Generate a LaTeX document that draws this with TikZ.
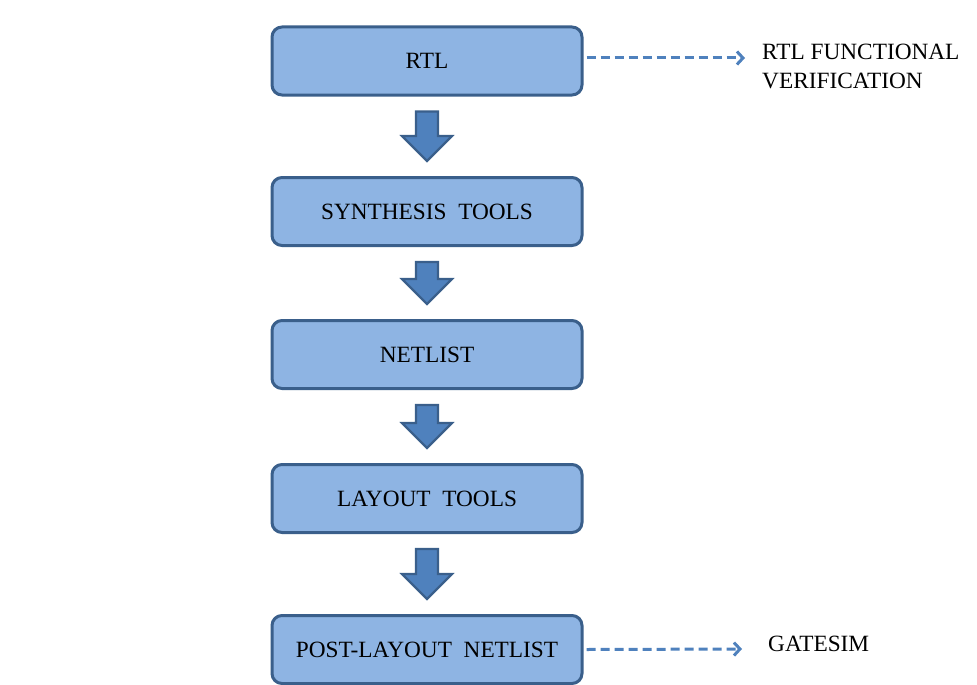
\documentclass[tikz,border=0pt]{standalone}
\usepackage{fontspec}
\setmainfont{Liberation Serif}
\usetikzlibrary{arrows.meta,calc}
\definecolor{boxfill}{HTML}{8EB4E3}
\definecolor{boxline}{HTML}{3A5F8B}
\definecolor{arrfill}{HTML}{4F81BD}
\newcommand\blockarr[2]{%
  \draw[blockarrow] let \p1=($(#1.south)+(0,-15)$), \p2=($(#2.north)+(0,15)$) in
    (\x1-11pt,\y1) -- (\x1+11pt,\y1) -- (\x1+11pt,\y2+25pt) -- (\x1+25pt,\y2+25pt)
    -- (\x1,\y2) -- (\x1-25pt,\y2+25pt) -- (\x1-11pt,\y2+25pt) -- cycle;}
\begin{document}
\begin{tikzpicture}[x=1pt,y=1pt,
  stagebox/.style={draw=boxline, fill=boxfill, line width=3pt, rounded corners=10pt,
    minimum width=310pt, minimum height=68pt, inner sep=0pt,
    font=\fontsize{23.3}{27}\selectfont},
  sidetext/.style={anchor=west, inner sep=0pt, align=left,
    font=\fontsize{23.3}{29}\selectfont},
  blockarrow/.style={draw=boxline, fill=arrfill, line width=2.2pt, line join=miter},
  dasharrow/.style={draw=arrfill, line width=3pt, dash pattern=on 9pt off 5pt,
    -{Straight Barb[length=6pt,width=13pt,line width=3pt]}}]
\useasboundingbox (0,0) rectangle (977,-685);
\node[stagebox] (rtl) at (427,-61) {RTL};
\node[stagebox] (syn) at (427,-211.5) {SYNTHESIS\ \ TOOLS};
\node[stagebox] (net) at (427,-354.5) {NETLIST};
\node[stagebox] (lay) at (427,-498.5) {LAYOUT\ \ TOOLS};
\node[stagebox] (post) at (427,-649.5) {POST-LAYOUT\ \ NETLIST};
\blockarr{rtl}{syn}
\blockarr{syn}{net}
\blockarr{net}{lay}
\blockarr{lay}{post}
\node[sidetext] (ver) at (762,-66) {RTL FUNCTIONAL\\VERIFICATION};
\node[sidetext] (gate) at (768,-644) {GATESIM};
\draw[dasharrow] ($(rtl.east)+(3,3)$) -- ($(ver.west)+(-17,8)$);
\draw[dasharrow] ($(post.east)+(3,0)$) -- ($(gate.west)+(-26,-5)$);
\end{tikzpicture}
\end{document}
